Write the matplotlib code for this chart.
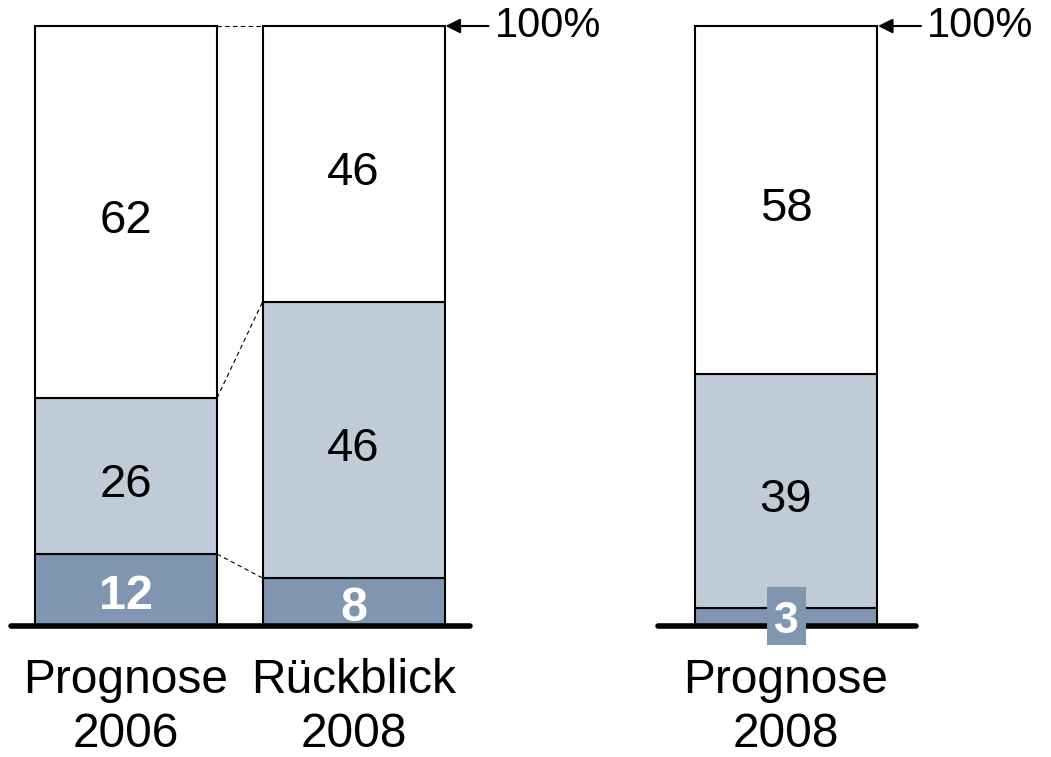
import matplotlib
matplotlib.use("Agg")
import matplotlib.pyplot as plt
from matplotlib.patches import Rectangle

plt.rcParams['font.family'] = ['Liberation Sans', 'DejaVu Sans']

# Shares in percent, stacked bottom to top
cat_line1 = ["Prognose", "Rückblick", "Prognose"]
cat_line2 = ["2006", "2008", "2008"]
bottom_vals = [12, 8, 3]
middle_vals = [26, 46, 39]
top_vals = [62, 46, 58]

dark = "#7f95b0"
light = "#bfcbd7"

fig = plt.figure(figsize=(10.51, 7.57), dpi=100)
ax = fig.add_axes([0, 0, 1, 1])
# horizontal axis in pixel-like units, vertical axis in percent (6 px per %)
ax.set_xlim(0, 1051)
ax.set_ylim(-(757 - 626) / 6, 626 / 6)
ax.axis("off")

xs = [126, 353.5, 786]
w = 182
lw = 1.5

for x, b, m, t in zip(xs, bottom_vals, middle_vals, top_vals):
    ax.bar(x, b, w, bottom=0, color=dark, edgecolor="black", linewidth=lw, zorder=2)
    ax.bar(x, m, w, bottom=b, color=light, edgecolor="black", linewidth=lw, zorder=2)
    ax.bar(x, t, w, bottom=b + m, color="white", edgecolor="black", linewidth=lw, zorder=2)
    ax.text(x, b + m / 2 - 3.5, str(m), ha="center", va="baseline", fontsize=34,
            color="black", zorder=5)
    ax.text(x, b + m + t / 2 - 3.5, str(t), ha="center", va="baseline", fontsize=34,
            color="black", zorder=5)

# bottom segment labels (white, bold)
for i in range(2):
    ax.text(xs[i], bottom_vals[i] / 2 - 3.1, str(bottom_vals[i]), ha="center", va="baseline",
            fontsize=35, fontweight="bold", color="white", zorder=5)
# small segment: label sits in its own box over the baseline
bh = 58 / 6
ax.add_patch(Rectangle((xs[2] - 19.5, bottom_vals[2] / 2 - bh / 2 + 0.15), 39, bh,
                       facecolor=dark, edgecolor="none", zorder=6))
ax.text(xs[2], bottom_vals[2] / 2 - 2.7, str(bottom_vals[2]), ha="center", va="baseline",
        fontsize=32, fontweight="bold", color="white", zorder=7)

# dashed connectors between the first two bars
x0, x1 = xs[0] + w / 2, xs[1] - w / 2
c0 = [bottom_vals[0], bottom_vals[0] + middle_vals[0], 100]
c1 = [bottom_vals[1], bottom_vals[1] + middle_vals[1], 100]
for a, b in zip(c0, c1):
    ax.plot([x0, x1], [a, b], color="black", linestyle=(0, (4, 3)), linewidth=0.8, zorder=1)

# baselines
ax.plot([11, 470], [0, 0], color="black", linewidth=4, solid_capstyle="round", zorder=4)
ax.plot([658, 916], [0, 0], color="black", linewidth=4, solid_capstyle="round", zorder=4)

# 100% markers
for x in [xs[1], xs[2]]:
    xe = x + w / 2
    ax.annotate("", xy=(xe + 1, 100), xytext=(xe + 44, 100),
                arrowprops=dict(arrowstyle="-|>", color="black", lw=1.5,
                                mutation_scale=22, shrinkA=0, shrinkB=0), zorder=5)
    ax.text(xe + 50, 100, "100%", ha="left", va="center", fontsize=30, color="black")

# category labels, two lines each
for x, l1, l2 in zip(xs, cat_line1, cat_line2):
    ax.text(x, (626 - 693) / 6, l1, ha="center", va="baseline", fontsize=34.5, color="black")
    ax.text(x, (626 - 747) / 6, l2, ha="center", va="baseline", fontsize=34.5, color="black")

fig.savefig("out.png", dpi=100)
